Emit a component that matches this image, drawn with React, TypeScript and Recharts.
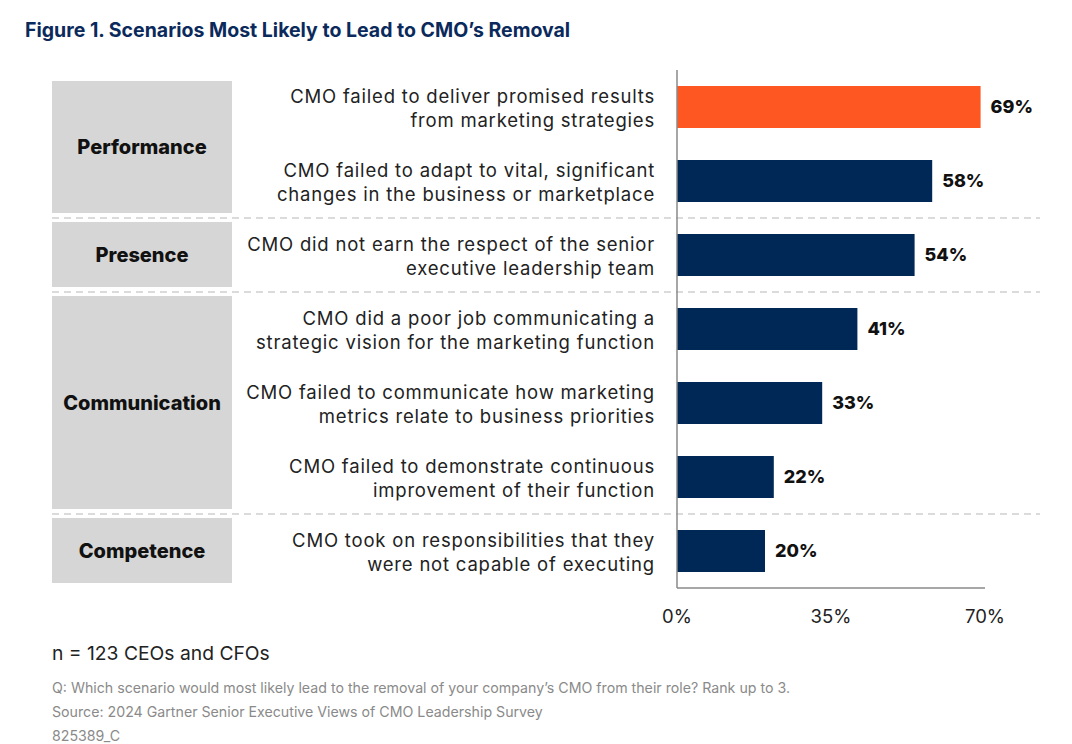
import React from "react";
import { BarChart, Bar, XAxis, YAxis, Cell, LabelList, ReferenceArea } from "recharts";

const categories = [
  "CMO failed to deliver promised results\nfrom marketing strategies",
  "CMO failed to adapt to vital, significant\nchanges in the business or marketplace",
  "CMO did not earn the respect of the senior\nexecutive leadership team",
  "CMO did a poor job communicating a\nstrategic vision for the marketing function",
  "CMO failed to communicate how marketing\nmetrics relate to business priorities",
  "CMO failed to demonstrate continuous\nimprovement of their function",
  "CMO took on responsibilities that they\nwere not capable of executing",
];
const values = [69, 58, 54, 41, 33, 22, 20];
const groupOf = [
  "Performance",
  "Performance",
  "Presence",
  "Communication",
  "Communication",
  "Communication",
  "Competence",
];
const xTicks = [0, 35, 70];

const data = categories.map((c, i) => ({ name: c, value: values[i], group: groupOf[i] }));

const groups: { name: string; first: string; last: string }[] = [];
data.forEach((d) => {
  const g = groups.find((x) => x.name === d.group);
  if (g) g.last = d.name;
  else groups.push({ name: d.group, first: d.name, last: d.name });
});

const NAVY = "#002856";
const ORANGE = "#ff5722";
const FONT = "Inter, 'Noto Sans', sans-serif";

const CategoryTick = (props: any) => {
  const { x, y, payload } = props;
  const lines = String(payload.value).split("\n");
  const lh = 24;
  const start = y - ((lines.length - 1) * lh) / 2 + 7.5;
  return (
    <text
      x={x}
      y={start}
      textAnchor="end"
      fill="#222"
      fontSize={18.5}
      fontFamily={FONT}
      style={{ letterSpacing: 0.8 }}
    >
      {lines.map((l, i) => (
        <tspan key={i} x={x} y={start + i * lh}>
          {l}
        </tspan>
      ))}
    </text>
  );
};

const makeGroupShape = (name: string, idx: number, isLast: boolean) => (props: any) => {
  const { y, height } = props;
  const topInset = idx === 0 ? 11 : 4;
  const botInset = 5;
  const bx = 52;
  const bw = 180;
  return (
    <g>
      <rect x={bx} y={y + topInset} width={bw} height={height - topInset - botInset} fill="#d6d6d6" />
      <text
        x={bx + bw / 2}
        y={y + topInset + (height - topInset - botInset) / 2 + 7}
        textAnchor="middle"
        fontSize={20}
        fontWeight={800}
        fill="#111"
        fontFamily={FONT}
      >
        {name}
      </text>
      {!isLast && (
        <line
          x1={52}
          x2={1040}
          y1={y + height}
          y2={y + height}
          stroke="#cfcfcf"
          strokeWidth={1.5}
          strokeDasharray="7 5"
        />
      )}
    </g>
  );
};

export default function App() {
  return (
    <div
      style={{
        position: "absolute",
        left: 0,
        top: 0,
        width: 1072,
        height: 744,
        background: "#fff",
        fontFamily: FONT,
      }}
    >
      <div
        style={{
          position: "absolute",
          left: 25,
          top: 18,
          fontSize: 19.5,
          fontWeight: 700,
          color: "#0b2a5c",
          letterSpacing: 0,
          lineHeight: "24px",
          whiteSpace: "nowrap",
        }}
      >
        Figure 1. Scenarios Most Likely to Lead to CMO’s Removal
      </div>
      <div style={{ position: "absolute", left: 0, top: 0 }}>
        <BarChart
          width={1072}
          height={744}
          data={data}
          layout="vertical"
          margin={{ top: 70, bottom: 126, left: 0, right: 87 }}
          barSize={42}
        >
          {groups.map((g, i) => (
            <ReferenceArea
              key={g.name}
              y1={g.first}
              y2={g.last}
              ifOverflow="visible"
              shape={makeGroupShape(g.name, i, i === groups.length - 1)}
            />
          ))}
          <XAxis
            type="number"
            domain={[0, 70]}
            ticks={xTicks}
            tickFormatter={(v: number) => `${v}%`}
            axisLine={{ stroke: "#8a8a8a", strokeWidth: 1.5 }}
            tickLine={false}
            tickMargin={16}
            height={30}
            tick={{ fill: "#222", fontSize: 18.5, fontFamily: FONT }}
            interval={0}
          />
          <YAxis
            type="category"
            dataKey="name"
            width={677}
            axisLine={{ stroke: "#8a8a8a", strokeWidth: 1.5 }}
            tickLine={false}
            tickSize={0}
            tickMargin={22}
            tick={<CategoryTick />}
            interval={0}
          />
          <Bar dataKey="value" isAnimationActive={false}>
            {data.map((d, i) => (
              <Cell key={i} fill={i === 0 ? ORANGE : NAVY} />
            ))}
            <LabelList
              dataKey="value"
              position="right"
              offset={10}
              formatter={(v: number) => `${v}%`}
              style={{ fill: "#111", fontSize: 18, fontWeight: 800, fontFamily: FONT }}
            />
          </Bar>
        </BarChart>
      </div>
      <div style={{ position: "absolute", left: 52, top: 641, fontSize: 19.3, color: "#222", lineHeight: "24px", whiteSpace: "nowrap" }}>
        n = 123 CEOs and CFOs
      </div>
      <div style={{ position: "absolute", left: 52, top: 679, fontSize: 14.2, color: "#8a8a8a", lineHeight: "18px", whiteSpace: "nowrap" }}>
        Q: Which scenario would most likely lead to the removal of your company’s CMO from their role? Rank up to 3.
      </div>
      <div style={{ position: "absolute", left: 52, top: 703, fontSize: 14.2, color: "#8a8a8a", lineHeight: "18px", whiteSpace: "nowrap" }}>
        Source: 2024 Gartner Senior Executive Views of CMO Leadership Survey
      </div>
      <div style={{ position: "absolute", left: 52, top: 727, fontSize: 14.2, color: "#8a8a8a", lineHeight: "18px", whiteSpace: "nowrap" }}>
        825389_C
      </div>
    </div>
  );
}
